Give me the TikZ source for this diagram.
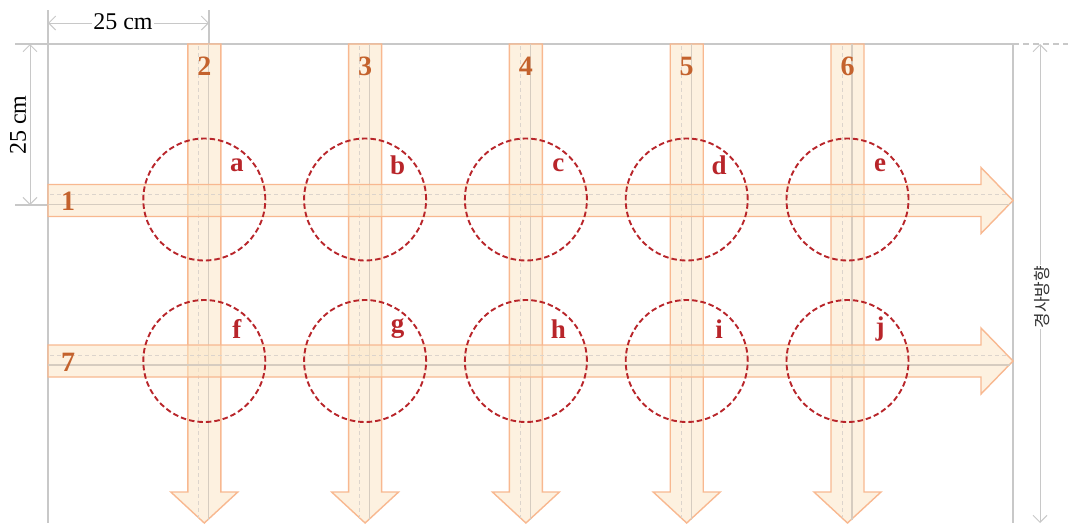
\documentclass[tikz,border=0pt]{standalone}
\usepackage{fontspec}
\setmainfont{Liberation Serif}
\newfontfamily\krfont{Noto Sans CJK KR}
\usetikzlibrary{arrows.meta}
\definecolor{bandline}{HTML}{F8B890}
\definecolor{bandfill}{HTML}{FBE6C6}
\definecolor{circred}{HTML}{B8252A}
\definecolor{numcol}{HTML}{C4622D}
\definecolor{gridgray}{HTML}{C8C8C8}
\definecolor{innergray}{HTML}{D6CCC0}
\definecolor{dashgray}{HTML}{DCD4CC}
\tikzset{
  gridline/.style={draw=gridgray, line width=1.5pt},
  dimline/.style={draw=gridgray, line width=1pt, {Straight Barb[length=7pt,width=14pt]}-{Straight Barb[length=7pt,width=14pt]}},
  band/.style={fill=bandfill, fill opacity=0.55, draw=bandline, line width=1.4pt},
  innersolid/.style={draw=innergray, line width=1.2pt},
  innerdash/.style={draw=dashgray, line width=0.8pt, dash pattern=on 4pt off 3pt},
  circ/.style={circle, draw=circred, line width=1.9pt, dash pattern=on 5.5pt off 3pt, minimum size=122pt, inner sep=0pt},
  numlab/.style={font=\bfseries\fontsize{28}{28}\selectfont, text=numcol, inner sep=0pt},
  letlab/.style={font=\bfseries\fontsize{27}{27}\selectfont, text=circred, inner sep=0pt},
  dimtext/.style={font=\fontsize{24}{24}\selectfont, text=black, fill=white, inner sep=1pt}
}
\begin{document}
\begin{tikzpicture}[x=1pt,y=-1pt]
\useasboundingbox (0,0) rectangle (1068,523);
% frame lines
\draw[gridline] (15,44) -- (1013,44);
\draw[gridline, dash pattern=on 6pt off 4pt] (1013,44) -- (1068,44);
\draw[gridline] (48,10) -- (48,523);
\draw[gridline] (1013,44) -- (1013,523);
\draw[gridline] (209,10) -- (209,44);
\draw[gridline] (15,205) -- (48,205);
% dimension lines
\coordinate (tl) at (48,23);
\coordinate (tr) at (209,23);
\coordinate (lt) at (30,44);
\coordinate (lb) at (30,205);
\coordinate (rt) at (1040,44);
\coordinate (rb) at (1040,523);
\draw[dimline] (tl) -- (tr);
\draw[dimline] (lt) -- (lb);
\draw[dimline] (rt) -- (rb);
\node[dimtext] (dtop) at (123,22) {25 cm};
\node[dimtext, rotate=90] (dleft) at (18,125) {25 cm};
\node[font=\krfont\fontsize{17}{17}\selectfont, fill=white, inner sep=1pt, rotate=90, text=black!80] (dir) at (1042,297) {경사방향};
% vertical arrows
\foreach \cx in {204.3,365.1,525.9,686.7,847.5}{
  \filldraw[band] (\cx-16.5,44) -- (\cx+16.5,44) -- (\cx+16.5,492) -- (\cx+33.5,492) -- (\cx,523) -- (\cx-33.5,492) -- (\cx-16.5,492) -- cycle;
  \draw[innersolid] (\cx+4.5,44) -- (\cx+4.5,520);
  \draw[innerdash] (\cx-5.5,46) -- (\cx-5.5,518);
}
% horizontal arrows
\foreach \cy in {200.5,361}{
  \filldraw[band] (48,\cy-16) -- (981,\cy-16) -- (981,\cy-33) -- (1013,\cy) -- (981,\cy+33) -- (981,\cy+16) -- (48,\cy+16) -- cycle;
  \draw[innersolid] (48,\cy+4) -- (1010,\cy+4);
  \draw[innerdash] (50,\cy-6) -- (1008,\cy-6);
}
% circles and letters
\foreach \cx/\la/\lb [count=\k] in {204.3/a/f,365.1/b/g,525.9/c/h,686.7/d/i,847.5/e/j}{
  \node[circ] (c\la) at (\cx,199.5) {};
  \node[circ] (c\lb) at (\cx,361) {};
  \node[letlab] (l\la) at (\cx+32.5,165) {\la};
  \node[letlab] (l\lb) at (\cx+32.5,329) {\lb};
}
% numbers
\node[numlab] (n2) at (204.3,66) {2};
\node[numlab] (n3) at (365.1,66) {3};
\node[numlab] (n4) at (525.9,66) {4};
\node[numlab] (n5) at (686.7,66) {5};
\node[numlab] (n6) at (847.5,66) {6};
\node[numlab] (n1) at (68,201) {1};
\node[numlab] (n7) at (68,362) {7};
\end{tikzpicture}
\end{document}
